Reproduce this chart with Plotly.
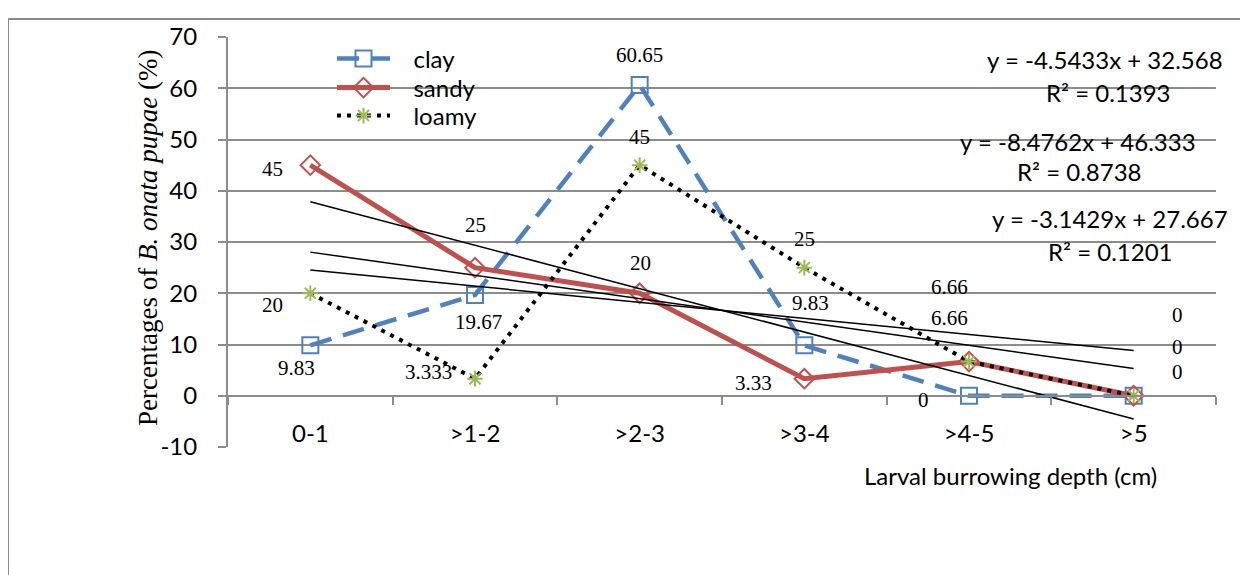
import plotly.graph_objects as go

# ---- data ----
categories = ["0-1", ">1-2", ">2-3", ">3-4", ">4-5", ">5"]
clay = [9.83, 19.67, 60.65, 9.83, 0, 0]
sandy = [45, 25, 20, 3.33, 6.66, 0]
loamy = [20, 3.333, 45, 25, 6.66, 0]
series_names = ["clay", "sandy", "loamy"]
trend_slopes = [-4.5433, -8.4762, -3.1429]
trend_intercepts = [32.568, 46.333, 27.667]
trend_r2 = [0.1393, 0.8738, 0.1201]
y_ticks = [-10, 0, 10, 20, 30, 40, 50, 60, 70]
y_tick_text = ["-10", "0", "10", "20", "30", "40", "50", "60", "70"]

# ---- layout geometry (page pixels; the page body adds an 8px offset) ----
OFF = 8
W, H = 1240, 567
ML, MR, MT, MB = 220, 32, 29, 128
PW, PH = W - ML - MR, H - MT - MB


def px_x(px):
    return (px - OFF - ML) / PW


def px_y(py):
    return (H - MB - (py - OFF)) / PH


SANS = "Lato"
SERIF = "Liberation Serif"
BLUE, RED, GREEN = "#4F81BD", "#C0504D", "#9BBB59"
GRID = "#8C8C8C"
NB = "\u00a0\u00a0\u00a0"

fig = go.Figure()

fig.add_trace(go.Scatter(
    x=categories, y=clay, name=NB + "clay", mode="lines+markers", legend="legend",
    line=dict(color=BLUE, width=4.5, dash="22px,12px"),
    marker=dict(symbol="square-open", size=16, color=BLUE, line=dict(width=2, color=BLUE)),
))
fig.add_trace(go.Scatter(
    x=categories, y=sandy, name=NB + "sandy", mode="lines+markers", legend="legend2",
    line=dict(color=RED, width=5),
    marker=dict(symbol="diamond-open", size=15, color=RED, line=dict(width=2, color=RED)),
))
fig.add_trace(go.Scatter(
    x=categories, y=loamy, name=NB + "loamy", mode="lines+markers", legend="legend3",
    line=dict(color="black", width=4, dash="4px,6px"),
    marker=dict(symbol="asterisk-open", size=13, color=GREEN, line=dict(width=2, color=GREEN)),
))

# linear trendlines from the stated regression equations (x = 1..6)
for m, b in zip(trend_slopes, trend_intercepts):
    xs = [categories[0], categories[-1]]
    ys = [m * 1 + b, m * len(categories) + b]
    fig.add_trace(go.Scatter(x=xs, y=ys, mode="lines", showlegend=False,
                             line=dict(color="black", width=1.5), hoverinfo="skip"))

# ---- data labels ----
label_offsets = {
    "clay": [(-14, 23), (3, 27), (0, -30), (6, -42), (-46, 4), (44, -24)],
    "sandy": [(-38, 4), (0, -43), (1, -30), (-51, 4), (-20, -44), (44, -49)],
    "loamy": [(-38, 12), (-47, -7), (0, -28), (0, -29), (-20, -75), (44, -81)],
}
annotations = []
for name, vals in zip(series_names, [clay, sandy, loamy]):
    for cat, v, (dx, dy) in zip(categories, vals, label_offsets[name]):
        annotations.append(dict(
            x=cat, y=v, xref="x", yref="y", text=f"{v:g}", showarrow=False,
            xanchor="center", yanchor="middle",
            xshift=dx, yshift=-dy, font=dict(family=SERIF, size=21, color="black"),
        ))

# ---- trendline equations ----
eq_pos = [((1105, 59), (1108, 92)), ((1078, 141), (1079, 172)), ((1110, 219), (1110, 251))]
for m, b, r2, (p1, p2) in zip(trend_slopes, trend_intercepts, trend_r2, eq_pos):
    annotations.append(dict(x=px_x(p1[0]), y=px_y(p1[1]), xref="paper", yref="paper",
                            text=f"y = {m}x + {b}", showarrow=False,
                            xanchor="center", yanchor="middle",
                            font=dict(family=SANS, size=24, color="black")))
    annotations.append(dict(x=px_x(p2[0]), y=px_y(p2[1]), xref="paper", yref="paper",
                            text=f"R² = {r2}", showarrow=False,
                            xanchor="center", yanchor="middle",
                            font=dict(family=SANS, size=24, color="black")))

# ---- axis titles ----
annotations.append(dict(x=px_x(148), y=px_y(238), xref="paper", yref="paper",
                        text="Percentages of <i>B. onata pupae</i> (%)", textangle=-90,
                        xanchor="center", yanchor="middle",
                        showarrow=False, font=dict(family=SERIF, size=27, color="black")))
annotations.append(dict(x=px_x(1010), y=px_y(475), xref="paper", yref="paper",
                        text="Larval burrowing depth (cm)", showarrow=False,
                        xanchor="center", yanchor="middle",
                        font=dict(family=SANS, size=24, color="black")))


def legend_at(py):
    return dict(x=px_x(332), y=px_y(py), xanchor="left", yanchor="middle",
                bgcolor="rgba(0,0,0,0)", font=dict(family=SANS, size=24, color="black"),
                itemwidth=53)


fig.update_layout(
    width=W, height=H,
    margin=dict(l=ML, r=MR, t=MT, b=MB),
    paper_bgcolor="white", plot_bgcolor="white",
    showlegend=True,
    legend=legend_at(59), legend2=legend_at(88), legend3=legend_at(116),
    annotations=annotations,
    shapes=[dict(type="rect", xref="paper", yref="paper",
                 x0=px_x(8), x1=px_x(1300), y0=px_y(700), y1=px_y(19),
                 line=dict(color="#8A8A8A", width=2), layer="below")],
    xaxis=dict(
        type="category", range=[-0.5, len(categories) - 0.5],
        anchor="free", position=(0 - y_ticks[0]) / (y_ticks[-1] - y_ticks[0]),
        showgrid=False, showline=True, linecolor=GRID, linewidth=2,
        ticks="outside", ticklen=8, tickcolor=GRID, tickwidth=2, tickson="boundaries",
        ticklabelstandoff=16, tickfont=dict(family=SANS, size=24, color="black"),
        zeroline=False,
    ),
    yaxis=dict(
        range=[y_ticks[0], y_ticks[-1]], tickvals=y_ticks, ticktext=y_tick_text,
        showgrid=True, gridcolor=GRID, gridwidth=1.5,
        showline=True, linecolor=GRID, linewidth=2,
        ticks="outside", ticklen=8, tickcolor=GRID, tickwidth=2,
        tickfont=dict(family=SANS, size=24, color="black"), zeroline=False,
        ticklabelstandoff=16,
    ),
)

fig.write_html("out.html")
